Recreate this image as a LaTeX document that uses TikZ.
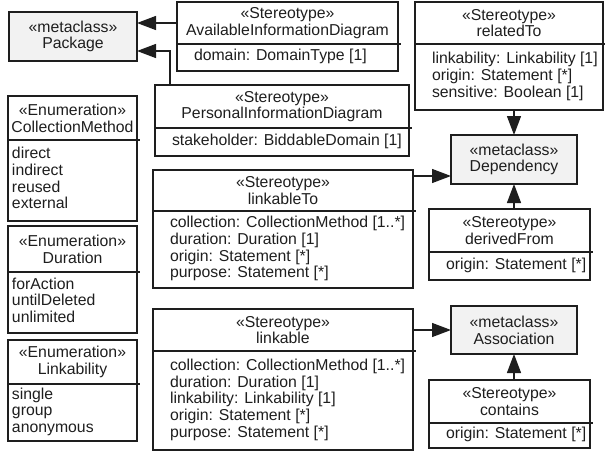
\documentclass[tikz,border=0pt]{standalone}
\usepackage{fontspec}
\setmainfont{Liberation Sans}
\usetikzlibrary{arrows.meta, positioning}
\definecolor{cink}{HTML}{1E1E1E}
\definecolor{cmeta}{HTML}{F2F2F2}
\newcommand{\slots}[2]{\makebox[#1][l]{\begin{tabular}{@{}l@{}}#2\end{tabular}}}
\tikzset{
  every picture/.style={font=\fontsize{15.8pt}{16.7pt}\selectfont, line width=1.3pt},
  cls/.style={draw=cink, text=cink, anchor=north west, inner sep=0pt, outer sep=0pt},
  head/.style={cls, align=center},
  meta/.style={head, fill=cmeta},
  slot/.style={cls, inner xsep=17pt},
  lit/.style={cls, inner xsep=4pt},
  gen/.style={-{Triangle[length=19pt, width=14pt]}, draw=cink},
}

\begin{document}
\begin{tikzpicture}[x=1pt, y=-1pt]
  \useasboundingbox (0,0) rectangle (605,453);
  % metaclasses
  \node[meta, minimum width=128, minimum height=49] (pkg) at (9,12) {«metaclass»\\Package};
  \node[meta, minimum width=126, minimum height=49] (dep) at (451,135) {«metaclass»\\Dependency};
  \node[meta, minimum width=126, minimum height=48] (assoc) at (451,306) {«metaclass»\\Association};
  % stereotypes
  \node[head, minimum width=221, minimum height=42] (availH) at (177,2) {«Stereotype»\\AvailableInformationDiagram};
  \node[slot, minimum width=221, minimum height=27] (availB) at (availH.south west) {\slots{187pt}{domain: DomainType [1]}};
  \node[head, minimum width=254, minimum height=43] (persH) at (155,85) {«Stereotype»\\PersonalInformationDiagram};
  \node[slot, minimum width=254, minimum height=28] (persB) at (persH.south west) {\slots{220pt}{stakeholder: BiddableDomain [1]}};
  \node[head, minimum width=188, minimum height=42] (relH) at (415,2) {«Stereotype»\\relatedTo};
  \node[slot, minimum width=188, minimum height=66] (relB) at (relH.south west) {\slots{154pt}{linkability: Linkability [1]\\origin: Statement [*]\\sensitive: Boolean [1]}};
  \node[head, minimum width=260, minimum height=41] (toH) at (153,170) {«Stereotype»\\linkableTo};
  \node[slot, minimum width=260, minimum height=77] (toB) at (toH.south west) {\slots{226pt}{collection: CollectionMethod [1..*]\\duration: Duration [1]\\origin: Statement [*]\\purpose: Statement [*]}};
  \node[head, minimum width=161, minimum height=43] (derH) at (429,209) {«Stereotype»\\derivedFrom};
  \node[slot, minimum width=161, minimum height=28] (derB) at (derH.south west) {\slots{127pt}{origin: Statement [*]}};
  \node[head, minimum width=260, minimum height=42] (linkH) at (153,309) {«Stereotype»\\linkable};
  \node[slot, minimum width=260, minimum height=99] (linkB) at (linkH.south west) {\slots{226pt}{collection: CollectionMethod [1..*]\\duration: Duration [1]\\linkability: Linkability [1]\\origin: Statement [*]\\purpose: Statement [*]}};
  \node[head, minimum width=161, minimum height=43] (contH) at (429,380) {«Stereotype»\\contains};
  \node[slot, minimum width=161, minimum height=25] (contB) at (contH.south west) {\slots{127pt}{origin: Statement [*]}};
  % enumerations
  \node[head, minimum width=129, minimum height=44] (collH) at (8,96) {«Enumeration»\\CollectionMethod};
  \node[lit, minimum width=129, minimum height=81] (collB) at (collH.south west) {\slots{121pt}{direct\\indirect\\reused\\external}};
  \node[head, minimum width=129, minimum height=46] (durH) at (8,226) {«Enumeration»\\Duration};
  \node[lit, minimum width=129, minimum height=61] (durB) at (durH.south west) {\slots{121pt}{forAction\\untilDeleted\\unlimited}};
  \node[head, minimum width=129, minimum height=44] (lkbH) at (8,340) {«Enumeration»\\Linkability};
  \node[lit, minimum width=129, minimum height=57] (lkbB) at (lkbH.south west) {\slots{121pt}{single\\group\\anonymous}};
  \foreach \n in {availH, persH, relH, toH, derH, linkH, contH, collH, durH, lkbH}
    \draw[cink] (\n.south east) -- ++(3,0);
  % extensions
  \coordinate (toOut) at ([yshift=-6pt]toH.north east);
  \draw[gen] (availH.west) -- (availH.west -| pkg.east);
  \draw[gen] ([xshift=15pt]persH.north west) |- ([yshift=-14.5pt]pkg.east);
  \draw[gen] (relB.south -| dep.north) -- (dep.north);
  \draw[gen] (toOut) -- (toOut -| dep.west);
  \draw[gen] (derH.north -| dep.south) -- (dep.south);
  \draw[gen] (assoc.west -| linkH.east) -- (assoc.west);
  \draw[gen] (contH.north -| assoc.south) -- (assoc.south);
\end{tikzpicture}
\end{document}
